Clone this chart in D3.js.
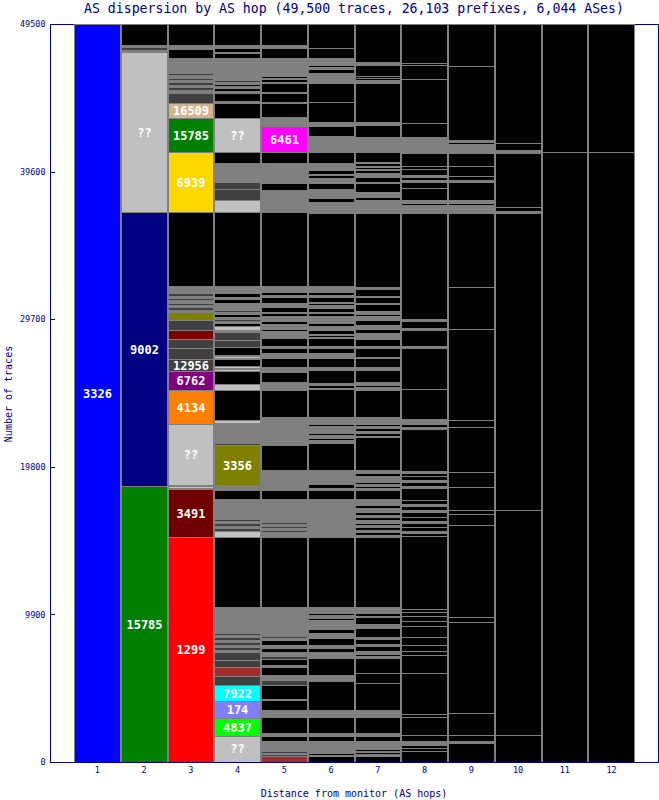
<!DOCTYPE html>
<html><head><meta charset="utf-8">
<script src="https://cdn.jsdelivr.net/npm/d3@7/dist/d3.min.js"></script>
<style>body{margin:0;background:#fff}svg{display:block}</style>
</head><body>
<svg id="c" width="659" height="800"></svg>
<script>
// ---- data (traces per segment, bottom to top; kind = AS number, "??" or an unlabeled class) ----
const hops = [1,2,3,4,5,6,7,8,9,10,11,12];
const yTicks = [0, 9900, 19800, 29700, 39600, 49500];
const totalTraces = 49500;
const titleText = "AS dispersion by AS hop (49,500 traces, 26,103 prefixes, 6,044 ASes)";
const xTitle = "Distance from monitor (AS hops)";
const yTitle = "Number of traces";

const col1 = [[49500,"3326"]];
const col2 = [[18512,"15785"],[18378,"9002"],[10732,"??"],[134,"g"],[201,"d"],[134,"g"],[1409,"k"]];
const col3 = [[15091,"1299"],[3220,"3491"],[67,"g"],[134,"l"],[67,"g"],[4091,"??"],[2280,"4134"],[1274,"6762"],[805,"12956"],[738,"d"],[604,"d"],[604,"m"],[671,"d"],[537,"o"],[134,"g"],[201,"d"],[134,"g"],[134,"d"],[201,"g"],[134,"d"],[134,"g"],[201,"d"],[470,"g"],[4963,"k"],[4024,"6939"],[2280,"15785"],[1006,"16509"],[671,"d"],[201,"g"],[201,"d"],[134,"g"],[201,"d"],[134,"g"],[134,"d"],[201,"g"],[134,"d"],[1006,"g"],[604,"k"],[268,"g"],[1409,"k"]];
const col4 = [[1744,"??"],[1207,"4837"],[1140,"174"],[1073,"7922"],[604,"d"],[604,"r"],[470,"d"],[537,"d"],[134,"g"],[201,"d"],[134,"g"],[201,"d"],[134,"g"],[201,"d"],[134,"g"],[134,"d"],[201,"g"],[1543,"g"],[4695,"k"],[402,"l"],[201,"d"],[134,"g"],[201,"d"],[134,"g"],[134,"d"],[134,"g"],[1207,"g"],[604,"k"],[335,"g"],[2683,"3356"],[134,"d"],[201,"g"],[1140,"g"],[201,"l"],[2012,"k"],[402,"l"],[872,"k"],[134,"l"],[67,"g"],[134,"l"],[470,"k"],[67,"g"],[134,"l"],[67,"g"],[537,"k"],[470,"d"],[537,"d"],[134,"g"],[268,"l"],[201,"k"],[134,"g"],[134,"d"],[134,"g"],[201,"k"],[134,"g"],[134,"d"],[201,"g"],[268,"g"],[268,"k"],[134,"g"],[268,"k"],[470,"g"],[4963,"k"],[805,"l"],[738,"d"],[470,"d"],[1274,"g"],[738,"k"],[2280,"??"],[1006,"k"],[134,"g"],[537,"k"],[134,"g"],[201,"k"],[134,"g"],[134,"k"],[134,"g"],[134,"d"],[134,"g"],[1341,"g"],[335,"k"],[67,"g"],[268,"k"],[201,"g"],[1409,"k"]];
const col5 = [[402,"r"],[134,"d"],[67,"g"],[134,"d"],[201,"g"],[470,"g"],[335,"k"],[201,"g"],[1073,"k"],[470,"g"],[671,"k"],[67,"g"],[939,"k"],[335,"d"],[335,"g"],[537,"k"],[134,"g"],[402,"k"],[201,"d"],[268,"g"],[268,"k"],[201,"g"],[335,"k"],[134,"g"],[134,"d"],[134,"g"],[67,"d"],[134,"g"],[67,"k"],[335,"g"],[67,"k"],[1140,"g"],[4695,"k"],[335,"g"],[134,"d"],[134,"g"],[134,"d"],[134,"g"],[134,"d"],[201,"g"],[1341,"g"],[604,"k"],[335,"g"],[335,"g"],[67,"l"],[604,"g"],[1677,"k"],[67,"d"],[67,"g"],[67,"d"],[67,"g"],[1073,"g"],[67,"k"],[470,"g"],[1811,"k"],[67,"d"],[67,"g"],[67,"d"],[201,"g"],[134,"g"],[671,"k"],[134,"g"],[67,"k"],[134,"g"],[604,"k"],[67,"g"],[67,"k"],[201,"g"],[335,"k"],[134,"g"],[537,"k"],[67,"g"],[67,"k"],[67,"d"],[67,"k"],[67,"g"],[67,"k"],[67,"g"],[134,"k"],[335,"g"],[201,"k"],[335,"g"],[201,"k"],[67,"g"],[335,"k"],[268,"g"],[402,"k"],[134,"g"],[201,"k"],[201,"g"],[67,"k"],[134,"g"],[4963,"k"],[134,"g"],[67,"d"],[604,"g"],[671,"g"],[470,"k"],[67,"d"],[1274,"g"],[738,"k"],[1744,"6461"],[604,"g"],[939,"k"],[67,"g"],[604,"k"],[67,"g"],[604,"k"],[67,"d"],[201,"k"],[67,"g"],[134,"k"],[67,"g"],[67,"k"],[134,"g"],[939,"g"],[671,"k"],[201,"g"],[1409,"k"]];
const col6 = [[402,"k"],[67,"g"],[134,"k"],[805,"g"],[335,"k"],[201,"g"],[1073,"k"],[470,"g"],[1945,"k"],[67,"g"],[67,"k"],[268,"g"],[1140,"k"],[134,"g"],[67,"k"],[201,"g"],[268,"k"],[201,"g"],[470,"k"],[335,"g"],[268,"k"],[604,"g"],[134,"k"],[201,"g"],[134,"k"],[402,"g"],[4695,"k"],[335,"g"],[67,"k"],[134,"g"],[67,"k"],[201,"g"],[67,"k"],[201,"g"],[67,"k"],[67,"g"],[1341,"g"],[604,"k"],[134,"g"],[268,"k"],[939,"g"],[1811,"k"],[201,"g"],[134,"k"],[201,"g"],[134,"k"],[470,"g"],[134,"k"],[470,"g"],[1878,"k"],[67,"g"],[201,"k"],[134,"g"],[872,"k"],[201,"g"],[604,"k"],[134,"g"],[67,"k"],[134,"g"],[335,"k"],[134,"g"],[537,"k"],[67,"g"],[134,"k"],[67,"g"],[268,"k"],[268,"g"],[201,"k"],[67,"g"],[67,"k"],[335,"g"],[201,"k"],[67,"g"],[268,"k"],[201,"g"],[134,"k"],[67,"g"],[335,"k"],[134,"g"],[201,"k"],[201,"g"],[67,"k"],[134,"g"],[4896,"k"],[738,"g"],[268,"k"],[604,"g"],[402,"k"],[335,"g"],[201,"k"],[67,"g"],[268,"k"],[470,"g"],[738,"k"],[201,"g"],[67,"l"],[805,"g"],[671,"k"],[268,"g"],[1341,"k"],[1274,"k"],[268,"g"],[67,"k"],[67,"g"],[67,"k"],[67,"g"],[67,"k"],[67,"g"],[268,"k"],[134,"g"],[134,"k"],[335,"g"],[67,"k"],[67,"g"],[671,"k"],[1610,"k"]];
const col7 = [[402,"k"],[134,"g"],[134,"k"],[67,"g"],[134,"k"],[537,"g"],[335,"k"],[201,"g"],[1073,"k"],[470,"g"],[1811,"k"],[671,"k"],[1006,"k"],[134,"g"],[134,"k"],[67,"g"],[67,"k"],[67,"g"],[335,"k"],[134,"g"],[335,"k"],[134,"g"],[604,"k"],[268,"g"],[470,"k"],[67,"g"],[201,"k"],[67,"g"],[67,"k"],[67,"g"],[67,"k"],[134,"g"],[4695,"k"],[134,"g"],[201,"k"],[134,"g"],[201,"k"],[134,"g"],[134,"k"],[201,"g"],[201,"k"],[134,"g"],[201,"k"],[268,"g"],[201,"k"],[402,"g"],[604,"k"],[134,"g"],[134,"k"],[134,"g"],[134,"k"],[402,"g"],[201,"k"],[201,"g"],[2213,"k"],[67,"g"],[201,"k"],[134,"g"],[201,"k"],[134,"g"],[134,"k"],[470,"g"],[1811,"k"],[67,"g"],[67,"k"],[67,"g"],[134,"k"],[67,"g"],[67,"k"],[67,"g"],[805,"k"],[201,"g"],[604,"k"],[67,"g"],[604,"k"],[134,"g"],[470,"k"],[201,"g"],[67,"k"],[134,"g"],[268,"k"],[268,"g"],[335,"k"],[268,"g"],[134,"k"],[67,"g"],[67,"k"],[67,"g"],[470,"k"],[67,"g"],[402,"k"],[67,"g"],[470,"k"],[134,"g"],[4963,"k"],[402,"g"],[67,"k"],[402,"g"],[201,"k"],[335,"g"],[604,"k"],[67,"g"],[335,"k"],[268,"g"],[201,"k"],[67,"g"],[134,"k"],[67,"g"],[201,"k"],[67,"g"],[671,"k"],[1006,"g"],[805,"k"],[201,"g"],[2616,"k"],[201,"g"],[134,"k"],[134,"k"],[738,"k"],[201,"g"],[2549,"k"]];
const col8 = [[738,"k"],[201,"k"],[201,"k"],[67,"k"],[201,"g"],[402,"k"],[1207,"k"],[201,"k"],[2750,"k"],[1207,"k"],[268,"k"],[402,"k"],[537,"k"],[738,"k"],[335,"k"],[335,"k"],[268,"k"],[201,"k"],[4896,"k"],[201,"k"],[134,"g"],[268,"k"],[268,"k"],[134,"g"],[268,"k"],[335,"k"],[134,"g"],[268,"k"],[134,"g"],[268,"k"],[805,"k"],[134,"g"],[268,"k"],[134,"g"],[268,"k"],[201,"k"],[134,"g"],[2817,"k"],[134,"g"],[201,"k"],[134,"g"],[67,"k"],[134,"g"],[2012,"k"],[2750,"k"],[134,"g"],[1073,"k"],[134,"g"],[470,"k"],[134,"g"],[7110,"k"],[335,"g"],[67,"k"],[134,"g"],[134,"k"],[201,"g"],[805,"k"],[402,"k"],[134,"g"],[201,"k"],[134,"g"],[402,"k"],[201,"k"],[872,"k"],[470,"g"],[67,"k"],[201,"g"],[67,"k"],[268,"g"],[939,"k"],[2951,"k"],[939,"k"],[134,"k"],[2616,"k"]];
const col9 = [[1274,"k"],[134,"g"],[402,"k"],[1476,"k"],[6104,"k"],[335,"k"],[6171,"k"],[738,"k"],[268,"k"],[1543,"k"],[1006,"k"],[3018,"k"],[470,"k"],[6104,"k"],[2817,"k"],[4963,"k"],[335,"g"],[67,"k"],[134,"g"],[134,"k"],[201,"g"],[1207,"k"],[134,"g"],[268,"k"],[671,"k"],[872,"k"],[201,"g"],[67,"k"],[201,"g"],[67,"k"],[67,"g"],[134,"k"],[134,"g"],[4963,"k"],[2817,"k"]];
const col10 = [[1811,"k"],[15091,"k"],[19921,"k"],[134,"g"],[268,"k"],[3622,"k"],[201,"g"],[470,"k"],[7982,"k"]];
const col11 = [[40914,"k"],[8586,"k"]];
const col12 = [[40914,"k"],[8586,"k"]];

const asColors = {"3326":"#0000ff","15785":"#008000","9002":"#000080","1299":"#ff0000","3491":"#700000",
  "16509":"#d2b48c","6939":"#ffd700","12956":"#404040","6762":"#800080","4134":"#ff8000","3356":"#808000",
  "6461":"#ff00ff","7922":"#00ffff","174":"#8080ff","4837":"#00ff00","??":"#c0c0c0"};
const classColors = {k:"#000000", g:"#808080", d:"#404040", l:"#c0c0c0", r:"#a52a2a", m:"#800000", o:"#808000"};

// ---- drawing ----
const columns = [col1,col2,col3,col4,col5,col6,col7,col8,col9,col10,col11,col12];
const navy = "#000080";
const mono = "'DejaVu Sans Mono', 'Liberation Mono', monospace";
const svg = d3.select("#c");
const x = d3.scaleBand().domain(hops).range([74, 635]).padding(0);
const y = d3.scaleLinear().domain([0, totalTraces]).range([762, 24]);

// frame
svg.append("rect").attr("x",50.5).attr("y",24.5).attr("width",608).attr("height",738)
  .attr("fill","#fff").attr("stroke",navy).attr("shape-rendering","crispEdges");

columns.forEach((segs, i) => {
  const hop = hops[i];
  let acc = 0;
  const stacked = segs.map(([v,k]) => { const s = {y0:acc, y1:acc+v, kind:k}; acc += v; return s; });
  const xl = Math.round(x(hop)), xr = Math.round(x(hop) + x.bandwidth());
  const g = svg.append("g");
  g.selectAll("rect").data(stacked).join("rect")
    .attr("x", xl + 0.5).attr("width", xr - xl - 1)
    .attr("y", d => Math.round(y(d.y1)) + 0.5)
    .attr("height", d => Math.max(0, Math.round(y(d.y0)) - Math.round(y(d.y1))))
    .attr("fill", d => asColors[d.kind] || classColors[d.kind])
    .attr("stroke", "#808080").attr("stroke-width", 1)
    .attr("shape-rendering", "crispEdges");
  g.selectAll("text").data(stacked.filter(d => asColors[d.kind] && (y(d.y0) - y(d.y1)) >= 10)).join("text")
    .attr("x", (xl + xr) / 2)
    .attr("y", d => (y(d.y0) + y(d.y1)) / 2 + 0.5)
    .attr("text-anchor", "middle").attr("dominant-baseline", "central")
    .attr("fill", "#fff").attr("font-family", mono).attr("font-weight", "bold").attr("font-size", "12px")
    .text(d => d.kind);
});

// axes lines on top
svg.append("line").attr("x1",50.5).attr("x2",50.5).attr("y1",24).attr("y2",763).attr("stroke",navy).attr("shape-rendering","crispEdges");
svg.append("line").attr("x1",50).attr("x2",659).attr("y1",762.5).attr("y2",762.5).attr("stroke",navy).attr("shape-rendering","crispEdges");

const yAxis = d3.axisLeft(y).tickValues(yTicks).tickSize(-4).tickSizeOuter(0).tickPadding(5).tickFormat(d3.format("d"));
const ya = svg.append("g").attr("transform","translate(50.5,0)").call(yAxis);
ya.select(".domain").remove();
ya.selectAll("line").attr("stroke",navy).attr("shape-rendering","crispEdges");
ya.selectAll("text").attr("fill",navy).attr("font-family",mono).attr("font-size","8.5px");

const xAxis = d3.axisBottom(x).tickSize(0).tickPadding(4.5);
const xa = svg.append("g").attr("transform","translate(0,762.5)").call(xAxis);
xa.select(".domain").remove();
xa.selectAll("text").attr("fill",navy).attr("font-family",mono).attr("font-size","8.5px");

svg.append("text").attr("x",354).attr("y",8.5).attr("text-anchor","middle").attr("dominant-baseline","central")
  .attr("fill",navy).attr("font-family",mono).attr("font-size","13.2px").text(titleText);
svg.append("text").attr("x",354).attr("y",793).attr("text-anchor","middle").attr("dominant-baseline","central")
  .attr("fill",navy).attr("font-family",mono).attr("font-size","10px").text(xTitle);
svg.append("text").attr("transform","translate(8,394) rotate(-90)").attr("text-anchor","middle").attr("dominant-baseline","central")
  .attr("fill",navy).attr("font-family",mono).attr("font-size","10px").text(yTitle);
</script>
</body></html>
